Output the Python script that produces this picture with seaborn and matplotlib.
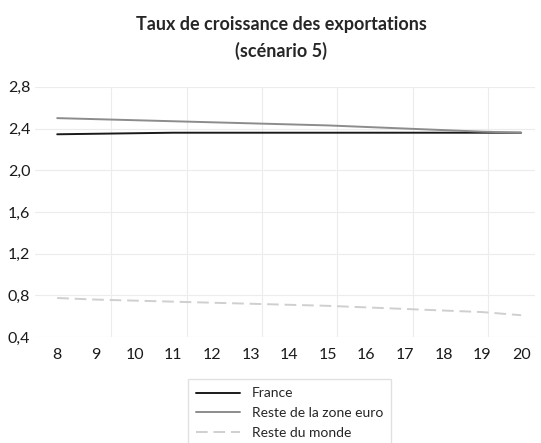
import numpy as np
import pandas as pd
import seaborn as sns
import matplotlib.pyplot as plt
from matplotlib.ticker import FuncFormatter

# Values
years = [8, 9, 10, 11, 12, 13, 14, 15, 16, 17, 18, 19, 20]
france = [2.345, 2.35, 2.355, 2.36, 2.36, 2.36, 2.36, 2.36, 2.36, 2.36, 2.36, 2.36, 2.36]
zone_euro = [2.50, 2.49, 2.48, 2.47, 2.46, 2.45, 2.44, 2.43, 2.415, 2.40, 2.385, 2.37, 2.36]
monde = [0.775, 0.76, 0.75, 0.74, 0.73, 0.72, 0.71, 0.70, 0.685, 0.67, 0.655, 0.64, 0.61]
y_ticks = [0.4, 0.8, 1.2, 1.6, 2.0, 2.4, 2.8]

sns.set_style('white')
plt.rcParams['font.family'] = ['Lato', 'DejaVu Sans']

fig = plt.figure(figsize=(5.41, 4.43), dpi=100)
ax = fig.add_axes([0.065, 0.239, 0.924, 0.565])

df = pd.DataFrame({
    'Année': years * 3,
    'Taux': france + zone_euro + monde,
    'Série': ['France'] * 13 + ['Reste de la zone euro'] * 13 + ['Reste du monde'] * 13,
})
palette = {'France': '#1a1a1a', 'Reste de la zone euro': '#8c8c8c', 'Reste du monde': '#cfcfcf'}
dashes = {'France': '', 'Reste de la zone euro': '', 'Reste du monde': (6, 3)}
sns.lineplot(data=df, x='Année', y='Taux', hue='Série', style='Série',
             palette=palette, dashes=dashes, linewidth=1.4, ax=ax, legend=True)

# light grid (vertical lines sit between categories, like in the original)
for gx in [9.4, 11.35, 13.3, 15.25, 17.2, 19.15]:
    ax.axvline(gx, color='#ececec', linewidth=0.8, zorder=0)
for gy in y_ticks:
    ax.axhline(gy, color='#ececec', linewidth=0.8, zorder=0)

ax.set_xlim(7.43, 20.36)
ax.set_ylim(0.4, 2.8)
ax.set_xticks(years)
ax.set_yticks(y_ticks)
ax.yaxis.set_major_formatter(FuncFormatter(lambda v, p: f'{v:.1f}'.replace('.', ',')))
ax.tick_params(axis='both', labelsize=11.5, length=0, colors='#1a1a1a')
ax.tick_params(axis='x', pad=8)
ax.set_xlabel('')
ax.set_ylabel('')
sns.despine(ax=ax, left=True, bottom=True)

handles, labels = ax.get_legend_handles_labels()
ax.get_legend().remove()
leg = fig.legend(handles, labels, loc='upper center', bbox_to_anchor=(0.535, 0.16),
                 frameon=True, fontsize=10, handlelength=3.2, borderpad=0.6,
                 labelspacing=0.55, fancybox=False, edgecolor='#d9d9d9')

fig.suptitle('Taux de croissance des exportations\n(scénario 5)', fontsize=13,
             fontweight='bold', y=0.965, x=0.52, linespacing=1.6)

fig.savefig('out.png', dpi=100)
